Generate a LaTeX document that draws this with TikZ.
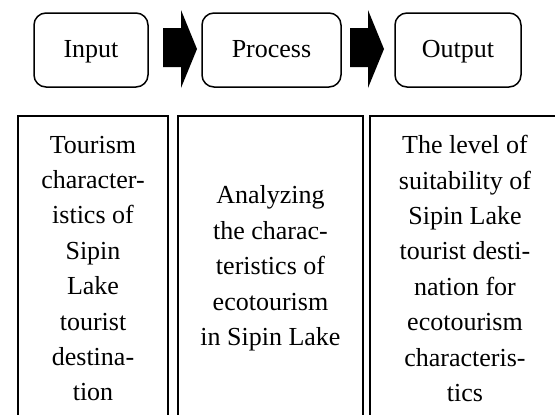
\documentclass[tikz,border=0pt]{standalone}
\usepackage{fontspec}
\setmainfont{Liberation Serif}
\usetikzlibrary{positioning}

\begin{document}
\begin{tikzpicture}[x=1pt,y=-1pt,
    stage/.style={draw,line width=1.5pt,rounded corners=12pt,minimum height=74pt,
        text height=19pt,text depth=5pt,font=\fontsize{26}{35.4}\selectfont},
    column/.style={draw,line width=1.5pt,minimum height=305pt,align=center,
        font=\fontsize{26}{35.4}\selectfont}]
    \useasboundingbox (0,0) rectangle (555,415);
    \clip (0,0) rectangle (555,415);

    % Top row
    \node[stage,minimum width=114pt] (input) at (91,50) {Input};
    \node[stage,minimum width=139pt] (process) at (271.5,50) {Process};
    \node[stage,minimum width=126pt] (output) at (458,50) {Output};

    % Block arrows between stages
    \foreach \x in {163,350}
        \fill (\x,28) -- ({\x+18},28) -- ({\x+18},10) -- ({\x+34},49)
            -- ({\x+18},88) -- ({\x+18},67) -- (\x,67) -- cycle;

    % Bottom row
    \node[column,minimum width=150pt] (inputcol) at (93,268.5)
        {Tourism\\character-\\istics of\\Sipin\\Lake\\tourist\\destina-\\tion};
    \node[column,minimum width=185pt] (processcol) at (270.5,268.5)
        {Analyzing\\the charac-\\teristics of\\ecotourism\\in Sipin Lake};
    \node[column,minimum width=190pt] (outputcol) at (465,268.5)
        {The level of\\suitability of\\Sipin Lake\\tourist desti-\\nation for\\ecotourism\\characteris-\\tics};
\end{tikzpicture}
\end{document}
